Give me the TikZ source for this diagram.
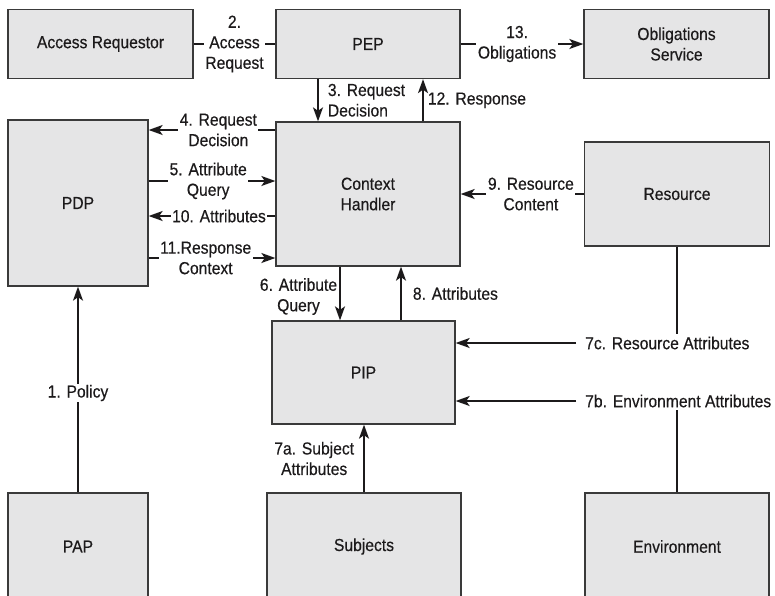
\documentclass[tikz,border=0pt]{standalone}
\usepackage{fontspec}
\setmainfont{Liberation Sans}[FakeStretch=0.9, FakeBold=0.4]
\usepackage{xcolor}
\usepackage{tikz}
\usetikzlibrary{arrows.meta, positioning, calc}
\definecolor{boxfill}{HTML}{E5E5E6}
\definecolor{boxline}{HTML}{3A3A3A}
\definecolor{ink}{HTML}{1C1A1B}
\tikzset{
  block/.style={draw=boxline, fill=boxfill, line width=1.3pt, inner sep=0pt, align=center, text=ink},
  dims/.style 2 args={minimum width=#1pt, minimum height=#2pt},
  flow/.style={line width=1.8pt, draw=ink},
  arr/.style={flow, -{Stealth[length=14pt, width=10pt, inset=3.5pt]}},
  msg/.style={fill=white, inner xsep=1.5pt, inner ysep=1pt, align=center, text=ink},
  side/.style={inner sep=2pt, text=ink},
}

\begin{document}
\begin{tikzpicture}[x=1pt, y=-1pt, font=\fontsize{17.4}{20.5}\selectfont]
\clip (0,0) rectangle (775,595);

% ---------------- Top row ----------------
\node[block, dims={185}{69}] (ar) at (100.5,44) {Access Requestor};
\node[block, dims={184}{69}] (pep) at (368,44) {PEP};
\node[block, dims={185}{69}] (os) at (676.5,44) {Obligations\\Service};

% ---------------- Middle ----------------
\node[block, dims={140}{166}] (pdp) at (78,203) {PDP};
\node[block, dims={184}{144}] (ch) at (368,194) {Context\\Handler};
\node[block, dims={185}{104}] (res) at (677,194) {Resource};
\node[block, dims={183}{103}] (pip) at (363.5,372.5) {PIP};

% ---------------- Bottom row (runs off the page) ----------------
\foreach \name/\x/\w/\txt in {pap/78/140/PAP, subj/364/194/Subjects, env/677/184/Environment}
  \node[block, dims={\w}{107}] (\name) at (\x,546.5) {\txt};

% Requestor / PEP / obligations
\draw[flow] (ar) -- node[msg] {2.\\Access\\Request} (pep);
\draw[arr] (pep.east) -- node[msg, pos=0.46] {13.\\Obligations} (os.west);
\draw[arr] ([xshift=-50pt]pep.south) -- node[side, right, align=left, xshift=7pt] {3. Request\\Decision} ([xshift=-50pt]ch.north);
\draw[arr] ([xshift=55pt]ch.north) -- node[side, right, xshift=2pt] {12. Response} ([xshift=55pt]pep.south);

% PDP <-> context handler
\draw[arr] ([yshift=64pt]ch.west) -- node[msg, pos=0.45] {4. Request\\Decision} ([yshift=73pt]pdp.east);
\draw[arr] ([yshift=22pt]pdp.east) -- node[msg, pos=0.47] {5. Attribute\\Query} ([yshift=13pt]ch.west);
\draw[arr] ([yshift=-22pt]ch.west) -- node[msg, pos=0.445] {10. Attributes} ([yshift=-13pt]pdp.east);
\draw[arr] ([yshift=-55pt]pdp.east) -- node[msg, pos=0.45] {11.Response\\Context} ([yshift=-64pt]ch.west);
\draw[arr] (pap.north) -- node[msg, pos=0.483] {1. Policy} (pdp.south);

% Resource, PIP
\draw[arr] (res.west) -- node[msg, pos=0.43] {9. Resource\\Content} (ch.east);
\draw[arr] ([xshift=-28pt]ch.south) -- node[side, left, align=center, yshift=-3pt] {6. Attribute\\Query} ([xshift=-23.5pt]pip.north);
\draw[arr] ([xshift=37.5pt]pip.north) -- node[side, right, xshift=9pt] {8. Attributes} ([xshift=33pt]ch.south);
\draw[arr] (subj.north) -- node[side, left, align=center, xshift=-7pt] {7a. Subject\\Attributes} (subj.north |- pip.south);

% Attribute feeds on the right
\node[side, anchor=west, inner xsep=9pt] (resattr) at (576,343) {7c. Resource Attributes};
\node[side, anchor=west, inner xsep=9pt] (envattr) at (576,401) {7b. Environment Attributes};
\draw[flow] (res.south) -- (res.south |- resattr.north);
\draw[arr] (resattr.west) -- (resattr.west -| pip.east);
\draw[flow] (env.north) -- (env.north |- envattr.south);
\draw[arr] (envattr.west) -- (envattr.west -| pip.east);
\end{tikzpicture}
\end{document}
